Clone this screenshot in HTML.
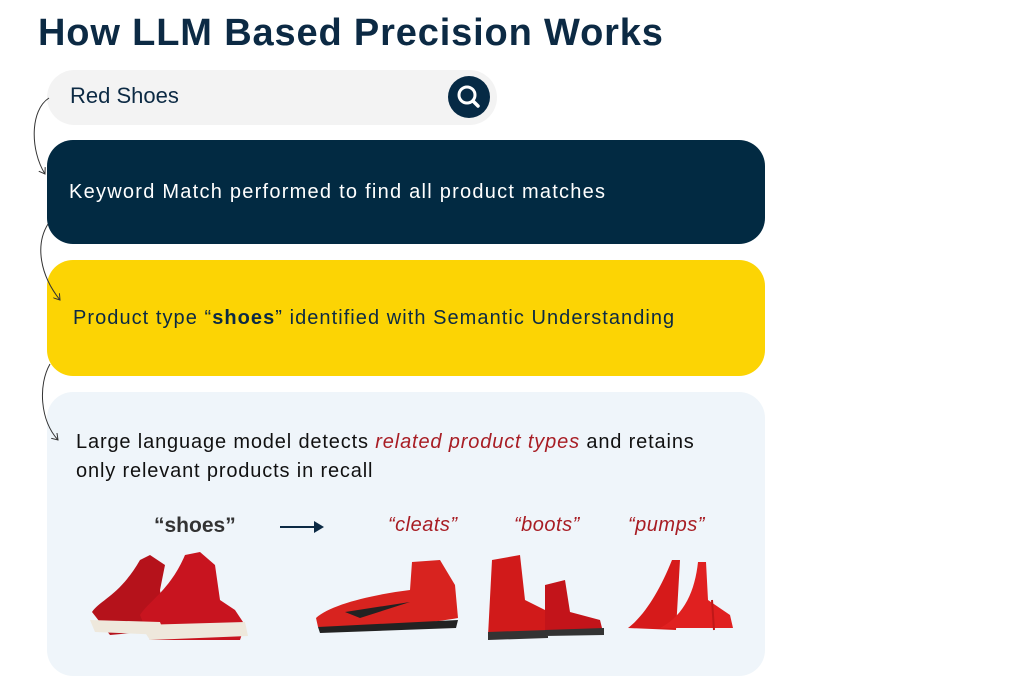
<!DOCTYPE html>
<html><head><meta charset="utf-8"><style>
body{margin:0;width:1024px;height:700px;background:#fff;position:relative;overflow:hidden;font-family:"Liberation Sans",sans-serif}
.a{position:absolute}
.t{white-space:nowrap}
</style></head><body>
<div class="a t" style="left:38px;top:12px;font-size:38px;font-weight:bold;color:#0c2a44;letter-spacing:0.85px">How LLM Based Precision Works</div>
<div class="a" style="left:47px;top:70px;width:450px;height:55px;border-radius:28px;background:#f3f3f3"></div>
<div class="a t" style="left:70px;top:83px;font-size:22px;color:#0c2a44">Red Shoes</div>
<svg class="a" style="left:447px;top:75px" width="44" height="44"><circle cx="22" cy="22" r="21" fill="#062a45"/><circle cx="20" cy="20" r="8" fill="none" stroke="#fff" stroke-width="3"/><line x1="26" y1="26" x2="31" y2="31" stroke="#fff" stroke-width="3.5" stroke-linecap="round"/></svg>
<div class="a" style="left:47px;top:140px;width:718px;height:104px;border-radius:26px;background:#022a42"></div>
<div class="a t" style="left:69px;top:181px;font-size:20px;color:#fff;letter-spacing:1.25px">Keyword Match performed to find all product matches</div>
<div class="a" style="left:47px;top:260px;width:718px;height:116px;border-radius:26px;background:#fcd404"></div>
<div class="a t" style="left:73px;top:307px;font-size:20px;color:#0c2a44;letter-spacing:1.05px">Product type “<b>shoes</b>” identified with Semantic Understanding</div>
<div class="a" style="left:47px;top:392px;width:718px;height:284px;border-radius:26px;background:#eff5fa"></div>
<div class="a" style="left:76px;top:428px;font-size:20px;line-height:29px;color:#111;width:680px;letter-spacing:0.85px">Large language model detects <i style="color:#a81d24">related product types</i> and retains<br>only relevant products in recall</div>
<div class="a t" style="left:154px;top:514px;font-size:21px;font-weight:bold;color:#333">“shoes”</div>
<div class="a t" style="left:388px;top:514px;font-size:20px;font-style:italic;color:#a81d24;letter-spacing:0.5px">“cleats”</div>
<div class="a t" style="left:514px;top:514px;font-size:20px;font-style:italic;color:#a81d24;letter-spacing:0.5px">“boots”</div>
<div class="a t" style="left:628px;top:514px;font-size:20px;font-style:italic;color:#a81d24;letter-spacing:0.5px">“pumps”</div>
<svg class="a" style="left:0;top:0" width="1024" height="700">
<defs><marker id="m" markerWidth="8" markerHeight="8" refX="6" refY="4" orient="auto"><path d="M0,0 L6,4 L0,8" fill="none" stroke="#333" stroke-width="1"/></marker></defs>
<path d="M49,98 C30,110 30,150 45,174" fill="none" stroke="#333" stroke-width="1" marker-end="url(#m)"/>
<path d="M48,224 C35,245 40,275 60,300" fill="none" stroke="#333" stroke-width="1" marker-end="url(#m)"/>
<path d="M50,364 C38,385 40,420 58,440" fill="none" stroke="#333" stroke-width="1" marker-end="url(#m)"/>
<line x1="280" y1="527" x2="320" y2="527" stroke="#0c2a44" stroke-width="2"/><path d="M314,521 L324,527 L314,533 Z" fill="#0c2a44"/>
<path d="M92,612 C100,600 120,595 140,560 L150,555 L165,565 L160,590 L165,630 L110,635 Z" fill="#b5121b"/>
<path d="M140,615 C150,600 170,590 185,555 L200,552 L215,565 L220,600 L235,610 L245,625 L240,640 L150,640 Z" fill="#c8141f"/>
<path d="M90,620 L160,622 L165,635 L95,632 Z" fill="#eee8dc"/>
<path d="M140,625 L245,622 L248,636 L150,640 Z" fill="#eee8dc"/>
<path d="M316,618 C330,605 370,595 410,590 L412,562 L440,560 L455,585 L458,618 C420,625 360,628 318,627 Z" fill="#d8231f"/>
<path d="M345,612 L410,602 L360,618 Z" fill="#222"/>
<path d="M318,627 L458,620 L456,628 L320,633 Z" fill="#222"/>
<path d="M492,560 L520,555 L525,600 L545,610 L548,632 L488,636 Z" fill="#d11a1a"/>
<path d="M545,585 L565,580 L570,612 L600,620 L603,632 L545,634 Z" fill="#c3141a"/>
<path d="M488,632 L548,630 L548,638 L488,640 Z M545,630 L604,628 L604,635 L545,636 Z" fill="#333"/>
<path d="M628,628 C645,615 660,590 672,560 L680,560 L676,630 Z" fill="#d61a1a"/>
<path d="M660,628 C685,615 695,590 698,562 L706,562 L708,600 L730,615 L733,628 Z" fill="#e02020"/>
<line x1="712" y1="600" x2="714" y2="630" stroke="#c01818" stroke-width="2"/>
</svg>
</body></html>
